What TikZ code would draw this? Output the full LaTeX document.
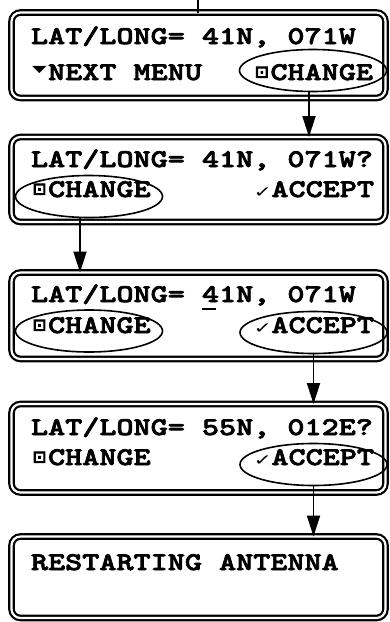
\documentclass[tikz,border=0pt]{standalone}
\usepackage{fontspec}
\usepackage{graphicx}
\usetikzlibrary{arrows.meta,shapes.geometric}
\newfontfamily\lcdfont[FakeStretch=1.277,FakeBold=2.8]{lmmonolt10-bold.otf}
\newfontfamily\symfont{DejaVu Sans}
\newfontfamily\symboldfont[FakeBold=6]{DejaVu Sans}
\newcommand\lcd{\lcdfont\fontsize{25.5}{28}\selectfont\frenchspacing}
\newcommand\cellw{17.1pt}
\newcommand\symdown{\makebox[\cellw][c]{\raisebox{8pt}{\symfont\fontsize{19}{19}\selectfont\scalebox{1}[0.5]{▼}}}}
\newcommand\symbox{\makebox[\cellw][c]{\raisebox{2.5pt}{\symboldfont\fontsize{16.5}{16.5}\selectfont ⊡}}}
\newcommand\symtick{\makebox[\cellw][c]{\symfont\fontsize{22}{22}\selectfont\scalebox{1}[0.7]{✓}}}
\newcommand\curs[1]{\rlap{\hspace{0.5pt}\rule[-8pt]{14pt}{2.5pt}}#1}
\tikzset{
  lcdbox/.style={draw, double, line width=2.2pt, double distance=2.2pt, rounded corners=9pt,
    minimum width=374pt, inner sep=0pt, outer sep=0pt},
  lcdline/.style={font=\lcd, inner sep=0pt, outer sep=0pt},
  oval/.style={draw, ellipse, line width=1.6pt, minimum width=147pt, minimum height=42pt,
    inner sep=0pt, outer sep=0pt},
  flow/.style={line width=1.8pt, -{Triangle[length=21pt,width=13pt]}},
}

\begin{document}
\begin{tikzpicture}[x=1pt,y=1pt]
  %%%%% START %%%%%
  \def\bx{198.5}
  \useasboundingbox (0,0) rectangle (389,-622);

  % display boxes
  \node[lcdbox, minimum height=85.5pt] (b1) at (\bx,-55.25) {};
  \node[lcdbox, minimum height=85pt]   (b2) at (\bx,-179.5) {};
  \node[lcdbox, minimum height=86.5pt] (b3) at (\bx,-315.75) {};
  \node[lcdbox, minimum height=88.5pt] (b4) at (\bx,-448.25) {};
  \node[lcdbox, minimum height=81.5pt] (b5) at (\bx,-577.25) {};

  % box 1
  \node[lcdline, anchor=base west] (t1a) at (31,-44) {LAT/LONG= 41N, 071W};
  \node[lcdline, anchor=base west] (t1b) at (31,-80) {\symdown NEXT MENU};
  \node[lcdline, anchor=base east] (t1c) at (373,-80) {\symbox CHANGE};
  \node[oval] (e1) at (313,-70.5) {};

  % box 2
  \node[lcdline, anchor=base west] (t2a) at (31,-167) {LAT/LONG= 41N, 071W?};
  \node[lcdline, anchor=base west] (t2b) at (31,-197) {\symbox CHANGE};
  \node[lcdline, anchor=base east] (t2c) at (374,-197) {\symtick ACCEPT};
  \node[oval] (e2) at (89,-196.5) {};

  % box 3
  \node[lcdline, anchor=base west] (t3a) at (31,-302) {LAT/LONG= \curs{4}1N, 071W};
  \node[lcdline, anchor=base west] (t3b) at (31,-333) {\symbox CHANGE};
  \node[lcdline, anchor=base east] (t3c) at (374,-333) {\symtick ACCEPT};
  \node[oval] (e3) at (89,-331) {};
  \node[oval] (e4) at (313.5,-332.5) {};

  % box 4
  \node[lcdline, anchor=base west] (t4a) at (31,-435) {LAT/LONG= 55N, 012E?};
  \node[lcdline, anchor=base west] (t4b) at (31,-465) {\symbox CHANGE};
  \node[lcdline, anchor=base east] (t4c) at (374,-465) {\symtick ACCEPT};
  \node[oval] (e5) at (313.5,-464.5) {};

  % box 5
  \node[lcdline, anchor=base west] (t5a) at (31,-570) {RESTARTING ANTENNA};

  % connectors
  \coordinate (in) at (198,0);
  \draw[line width=1.8pt] (in) -- (in |- b1.north);
  \draw[flow] ([xshift=-4pt]e1.south) -- ([xshift=-4pt]e1.south |- b2.north);
  \draw[flow] ([xshift=-9pt]e2.south) -- ([xshift=-9pt]e2.south |- b3.north);
  \draw[flow] (e4.south) -- (e4.south |- b4.north);
  \draw[flow] (e5.south) -- (e5.south |- b5.north);
  %%%%% END %%%%%
\end{tikzpicture}
\end{document}
